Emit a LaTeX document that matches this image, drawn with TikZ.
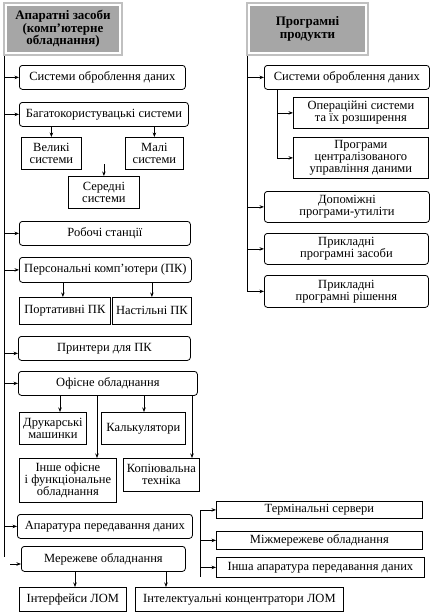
\documentclass[tikz,border=0pt]{standalone}
\usepackage{fontspec}
\setmainfont{Liberation Serif}
\newfontfamily\boxfont{Liberation Serif}
\usetikzlibrary{arrows.meta, positioning, fit}
\definecolor{HdrFrame}{RGB}{192,192,192}
\definecolor{HdrFill}{RGB}{166,166,166}
\tikzset{
  rbox/.style={rectangle, rounded corners=3pt, draw, line width=0.8pt,
               anchor=north west, inner sep=1pt, align=center,
               font=\boxfont\fontsize{12.5}{12}\selectfont},
  sbox/.style={rbox, sharp corners},
  hdr/.style={rectangle, fill=HdrFill, draw=white, line width=1pt,
              anchor=north west, inner sep=1pt, align=center,
              font=\boxfont\fontsize{13}{12.5}\selectfont\bfseries},
  frm/.style={rectangle, draw=HdrFrame, line width=2pt, inner sep=2pt},
  arr/.style={-{Stealth[length=4.5pt, width=3.5pt]}, line width=0.7pt},
  ln/.style={line width=0.8pt},
}
\begin{document}
\begin{tikzpicture}[x=1pt, y=-1pt]
  \useasboundingbox (0,0) rectangle (432,613);

  % headers
  \node[hdr, minimum width=113, minimum height=47] (hw) at (6,5)
       {Апаратні засоби\\(комп’ютерне\\обладнання)};
  \node[frm, fit=(hw)] (hwf) {};
  \node[hdr, minimum width=116, minimum height=47] (pw) at (249,5)
       {Програмні\\продукти};
  \node[frm, fit=(pw)] (pwf) {};

  % hardware column
  \node[rbox, minimum width=166, minimum height=24] (s1) at (19,65) {Системи оброблення даних};
  \node[rbox, minimum width=169, minimum height=24] (s2) at (19,102) {Багатокористувацькі системи};
  \node[sbox, minimum width=60, minimum height=32] (s2a) at (21,137) {Великі\\системи};
  \node[sbox, minimum width=58, minimum height=32] (s2b) at (125,137) {Малі\\системи};
  \node[sbox, minimum width=71, minimum height=32] (s2c) at (68,176) {Середні\\системи};
  \node[rbox, minimum width=171, minimum height=24] (s3) at (19,221) {Робочі станції};
  \node[rbox, minimum width=172, minimum height=25] (s4) at (19,257) {Персональні комп’ютери (ПК)};
  \node[sbox, minimum width=91, minimum height=27] (s4a) at (19,297) {Портативні ПК};
  \node[sbox, minimum width=79, minimum height=27] (s4b) at (112,297) {Настільні ПК};
  \node[rbox, minimum width=172, minimum height=24] (s5) at (18,336) {Принтери для ПК};
  \node[rbox, minimum width=179, minimum height=24] (s6) at (18,371) {Офісне обладнання};
  \node[sbox, minimum width=67, minimum height=32] (s6a) at (19,412) {Друкарські\\машинки};
  \node[sbox, minimum width=84, minimum height=32] (s6b) at (101,412) {Калькулятори};
  \node[sbox, minimum width=97, minimum height=44] (s6c) at (19,458) {Інше офісне\\і функціональне\\обладнання};
  \node[sbox, minimum width=76, minimum height=33] (s6d) at (123,458) {Копіювальна\\техніка};
  \node[rbox, minimum width=175, minimum height=24] (s7) at (17,514) {Апаратура передавання даних};
  \node[rbox, minimum width=164, minimum height=25] (s8) at (21,546) {Мережеве обладнання};
  \node[sbox, minimum width=107, minimum height=24] (s8a) at (19,587) {Інтерфейси ЛОМ};
  \node[sbox, minimum width=208, minimum height=24] (s8b) at (135,587) {Інтелектуальні концентратори ЛОМ};
  \node[sbox, minimum width=206, minimum height=17] (t1) at (216,501) {Термінальні сервери};
  \node[sbox, minimum width=206, minimum height=18] (t2) at (216,531) {Міжмережеве обладнання};
  \node[sbox, minimum width=208, minimum height=20] (t3) at (216,557) {Інша апаратура передавання даних};

  % software column
  \node[rbox, minimum width=165, minimum height=24] (p1) at (264,65) {Системи оброблення даних};
  \node[sbox, minimum width=135, minimum height=31] (p1a) at (293,97) {Операційні системи\\та їх розширення};
  \node[sbox, minimum width=135, minimum height=41] (p1b) at (293,137) {Програми\\централізованого\\управління даними};
  \node[rbox, minimum width=165, minimum height=31] (p2) at (264,191) {Допоміжні\\програми-утиліти};
  \node[rbox, minimum width=164, minimum height=31] (p3) at (264,233) {Прикладні\\програмні засоби};
  \node[rbox, minimum width=164, minimum height=32] (p4) at (264,275) {Прикладні\\програмні рішення};

  % trunk lines
  \coordinate (lt) at (4,56);
  \coordinate (lb) at (4,557);
  \coordinate (rt) at (247,56);
  \coordinate (rb) at (247,291);
  \coordinate (qt) at (277,89);
  \coordinate (bt) at (200,510);
  \coordinate (bb) at (200,577);
  \coordinate (m8) at (10,564);
  \draw[ln] (lt) -- (lb);
  \draw[ln] (rt) -- (rb);
  \draw[ln] (bt) -- (bb);
  \draw[ln] (qt) -- (qt |- p1b.west);

  % branches of the hardware trunk
  \foreach \n in {s1,s2,s3,s4,s6,s7}
    \draw[arr] (\n.west -| lt) -- (\n.west);
  \draw[arr] ([yshift=-5pt]s5.west -| lt) -- ([yshift=-5pt]s5.west);
  \draw[arr] (m8) -- (m8 -| s8.west);

  % sub-items
  \draw[arr] (s2a.north |- s2.south) -- (s2a.north);
  \draw[arr] (s2b.north |- s2.south) -- (s2b.north);
  \draw[arr] ([yshift=12pt]s2c.north) -- (s2c.north);
  \draw[arr] ([xshift=-2pt]s4a.north |- s4.south) -- ([xshift=-2pt]s4a.north);
  \draw[arr] (s4b.north |- s4.south) -- (s4b.north);
  \coordinate (o1) at (60,0);
  \coordinate (o2) at (97,0);
  \coordinate (o3) at (144,0);
  \coordinate (o4) at (192,0);
  \draw[arr] (o1 |- s6.south) -- (o1 |- s6a.north);
  \draw[arr] (o2 |- s6.south) -- (o2 |- s6c.north);
  \draw[arr] (o3 |- s6.south) -- (o3 |- s6b.north);
  \draw[arr] (o4 |- s6.south) -- (o4 |- s6d.north);
  \coordinate (n1) at (75,0);
  \coordinate (n2) at (166,0);
  \draw[arr] (n1 |- s8.south) -- (n1 |- s8a.north);
  \draw[arr] (n2 |- s8.south) -- (n2 |- s8b.north);
  \foreach \n in {t1,t2,t3}
    \draw[arr] (\n.west -| bt) -- (\n.west);

  % software branches
  \foreach \n in {p1,p2,p3,p4}
    \draw[arr] (\n.west -| rt) -- (\n.west);
  \foreach \n in {p1a,p1b}
    \draw[arr] (\n.west -| qt) -- (\n.west);
\end{tikzpicture}
\end{document}
